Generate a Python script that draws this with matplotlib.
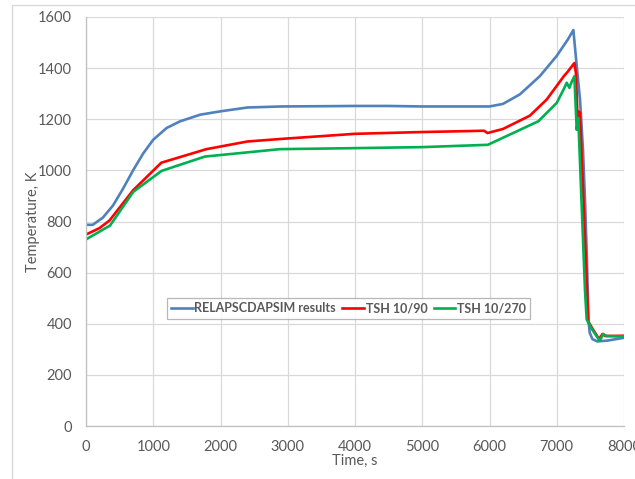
import matplotlib
matplotlib.use("Agg")
import matplotlib.pyplot as plt
from matplotlib.patches import Rectangle

plt.rcParams['font.family'] = ['Lato', 'DejaVu Sans']

# RELAPSCDAPSIM calculation
t_sim = [0, 100, 250, 400, 550, 700, 850, 1000, 1200, 1400, 1700, 2000, 2400,
         2900, 3500, 4000, 4500, 5000, 5500, 6000, 6200, 6450, 6750, 7000,
         7170, 7247, 7300, 7346, 7390, 7420, 7450, 7470, 7490, 7530, 7600,
         7750, 8000]
T_sim = [787, 787, 815, 862, 928, 1000, 1066, 1120, 1166, 1192, 1218, 1231,
         1246, 1250, 1251, 1252, 1252, 1250, 1250, 1250, 1260, 1297, 1369,
         1448, 1514, 1549, 1400, 1277, 1080, 883, 640, 420, 365, 340, 331,
         334, 345]

# Thermocouple TSH 10/90
t_tsh90 = [0, 200, 350, 700, 1120, 1790, 2400, 2900, 4000, 5000, 5920, 5970,
           6200, 6600, 6850, 7110, 7160, 7262, 7285, 7310, 7330, 7345, 7470,
           7540, 7630, 7680, 7720, 8000]
T_tsh90 = [749, 774, 804, 922, 1030, 1083, 1113, 1123, 1143, 1150, 1155, 1146,
           1162, 1214, 1277, 1370, 1385, 1420, 1380, 1200, 1230, 1225, 408,
           377, 340, 360, 352, 353]

# Thermocouple TSH 10/270
t_tsh270 = [0, 357, 703, 1124, 1768, 2881, 4000, 5000, 5975, 6726, 7000, 7114,
            7148, 7188, 7220, 7262, 7297, 7320, 7420, 7445, 7520, 7640, 7690,
            7740, 8000]
T_tsh270 = [730, 784, 916, 998, 1054, 1083, 1087, 1091, 1100, 1192, 1264, 1323,
            1343, 1323, 1345, 1368, 1159, 1205, 530, 417, 380, 333, 360, 352,
            350]

labels = ["RELAPSCDAPSIM results", "TSH 10/90", "TSH 10/270"]
colors = ["#4f81bd", "#ff0000", "#00b050"]

xticks = list(range(0, 8001, 1000))
yticks = list(range(0, 1601, 200))

fig = plt.figure(figsize=(6.35, 4.79), dpi=100)
fig.patches.append(Rectangle((12 / 635, -0.5), 2, 1.5 - 5 / 479,
                             transform=fig.transFigure, fill=False,
                             edgecolor="#d9d9d9", linewidth=1.0))
ax = fig.add_axes([86 / 635, 1 - 426 / 479, (624 - 86) / 635, (426 - 17) / 479])

for t, T, lab, c in zip([t_sim, t_tsh90, t_tsh270], [T_sim, T_tsh90, T_tsh270],
                        labels, colors):
    ax.plot(t, T, color=c, lw=1.9, label=lab, solid_joinstyle="round")

ax.set_xlim(0, 8000)
ax.set_ylim(0, 1600)
ax.set_xticks(xticks)
ax.set_yticks(yticks)
ax.grid(True, color="#d9d9d9", lw=0.9)
ax.set_axisbelow(True)
for s in ["top", "right"]:
    ax.spines[s].set_visible(False)
for s in ["left", "bottom"]:
    ax.spines[s].set_color("#bfbfbf")
    ax.spines[s].set_linewidth(0.9)
ax.tick_params(length=0, labelsize=10.5, labelcolor="#595959", pad=10)
ax.tick_params(axis="x", pad=10)

ax.set_xlabel("Time, s", fontsize=10.5, color="#595959", labelpad=0)
ax.set_ylabel("Temperature, K", fontsize=10.5, color="#595959", labelpad=-1)

leg = ax.legend(loc="upper left", bbox_to_anchor=((167 - 86) / 538, (426 - 298) / 409),
                ncol=3, frameon=True, fancybox=False, handlelength=1.75,
                handletextpad=0.1, columnspacing=0.5, borderpad=0.35,
                borderaxespad=0.0,
                prop={"size": 9.0, "weight": "bold"})
leg.get_frame().set_edgecolor("#a6a6a6")
leg.get_frame().set_linewidth(0.9)
for txt in leg.get_texts():
    txt.set_color("#595959")

fig.savefig("out.png", dpi=100)
